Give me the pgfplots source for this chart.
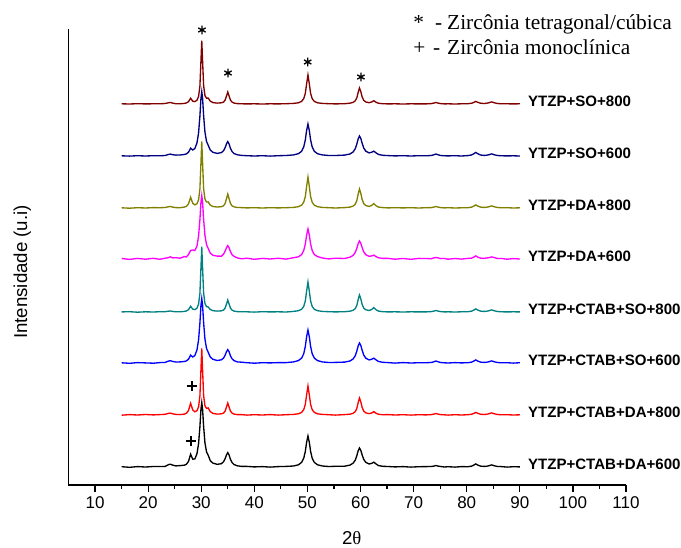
\documentclass[border=0pt]{standalone}
\usepackage{pgfplots}
\pgfplotsset{compat=1.18}
\usepackage{pgfplotstable}
\usepackage{fontspec}
\setmainfont{Liberation Sans}
\newfontfamily\timesfont{Liberation Serif}

\definecolor{cMaroon}{RGB}{128,0,0}
\definecolor{cNavy}{RGB}{0,0,128}
\definecolor{cOlive}{RGB}{128,128,0}
\definecolor{cMagenta}{RGB}{255,0,255}
\definecolor{cTeal}{RGB}{0,128,128}
\definecolor{cBlue}{RGB}{0,0,255}
\definecolor{cRed}{RGB}{255,0,0}

% XRD intensities (arbitrary units, baseline-subtracted) for each sample
% a: YTZP+CTAB+DA+600   b: YTZP+CTAB+DA+800
% c: YTZP+CTAB+SO+600   d: YTZP+CTAB+SO+800
% e: YTZP+DA+600        f: YTZP+DA+800
% g: YTZP+SO+600        h: YTZP+SO+800
\pgfplotstableread{
x a b c d e f g h
15 0.3 -0.2 0.2 0.1 0.5 0.2 0.2 0.2
16.5 -0.3 0.4 -0.3 0.3 -0.4 -0.2 -0.1 0.0
18 0.4 0.0 0.4 -0.2 0.6 0.3 0.3 0.3
19.5 0.0 0.5 0.1 0.2 -0.2 0.0 0.0 0.1
21 0.5 0.1 -0.2 0.0 0.7 0.4 0.3 0.2
22.2 0.5 0.4 0.4 0.3 -0.3 0.3 0.2 0.2
23.2 0.6 0.7 0.6 0.3 0.8 0.5 0.5 0.5
23.8 2.3 1.6 1.9 0.8 1.3 1.2 1.5 1.2
24.2 2.8 1.9 2.3 1.0 2.2 1.5 1.9 1.5
24.6 1.9 1.2 1.6 0.6 1.1 0.9 1.3 0.9
25.2 1.1 0.6 1.0 0.2 1.3 0.4 0.9 0.3
26.0 1.4 0.4 1.1 0.2 0.8 0.3 1.0 0.2
26.8 1.8 0.9 1.5 0.6 2.4 0.9 1.5 0.6
27.2 2.7 1.7 2.1 1.0 2.0 1.6 2.1 1.0
27.6 5.6 4.5 3.8 2.3 4.5 4.1 3.8 2.3
28.0 12.8 11.7 7.8 5.7 8.5 10.7 7.8 5.7
28.4 7.8 5.1 6.0 2.9 9.0 4.7 6.0 2.8
28.8 8.1 3.2 7.5 2.4 8.5 3.1 7.5 2.4
29.2 13.4 4.4 13.1 3.9 13.0 4.3 13.1 3.8
29.5 23.4 8.2 23.2 7.9 23.0 8.2 23.2 7.6
29.75 40.2 19.0 40.0 18.6 39.4 19.0 40.0 18.0
29.95 58.1 45.7 57.9 44.7 57.0 45.6 57.9 43.4
30.1 64.5 66.6 64.3 65.3 63.4 66.5 64.3 63.4
30.25 58.0 45.6 57.9 44.7 57.0 45.5 57.9 43.4
30.45 40.5 19.4 40.3 18.8 39.6 19.3 40.3 18.4
30.7 24.0 9.1 23.8 8.5 23.5 8.8 23.8 8.4
31.0 15.1 6.6 14.5 5.3 14.3 6.0 14.5 5.8
31.3 11.9 7.1 10.9 5.1 10.7 6.1 10.9 6.0
31.7 6.4 3.4 6.0 2.5 5.9 2.9 6.0 2.9
32.2 3.8 1.6 3.7 1.3 3.7 1.5 3.7 1.4
33.0 2.7 0.9 2.5 0.9 2.9 1.0 2.6 0.9
33.8 3.3 1.2 3.2 1.2 2.8 1.3 3.4 1.2
34.2 5.3 1.9 4.9 1.9 4.9 2.2 5.3 1.9
34.5 8.3 4.0 7.8 4.0 7.8 4.6 8.3 4.0
34.75 12.1 7.9 11.3 7.9 11.3 9.2 12.1 7.9
35.0 14.4 12 13.4 12 13.4 14 14.4 12
35.25 11.9 7.9 11.1 7.9 11.1 9.2 11.9 7.9
35.5 7.7 4.0 7.2 4.0 7.4 4.6 7.7 4.0
35.8 4.5 1.9 4.2 1.9 4.2 2.2 4.5 1.9
36.2 2.4 0.9 2.3 0.9 2.6 1.1 2.4 0.9
36.8 1.2 0.4 1.1 0.4 1.1 0.5 1.2 0.4
37.6 0.6 0.4 0.8 0.2 0.2 0.4 0.6 0.2
38.6 0.6 -0.1 0.3 0.2 0.8 0.1 0.3 0.1
40.0 0.1 0.3 -0.2 -0.1 -0.3 0.3 0.0 0.2
41.5 0.4 0.0 0.3 0.3 0.6 0.0 0.3 0.0
43.0 -0.1 0.4 0.1 0.1 0.0 0.3 -0.1 0.2
44.5 0.4 -0.1 0.4 0.2 0.7 0.1 0.3 0.1
46.0 0.6 0.3 0.4 0.0 -0.1 0.3 0.5 0.3
47.4 1.0 0.6 1.1 0.6 1.3 0.6 1.1 0.6
48.3 2.2 1.2 2.4 1.3 2.2 1.3 2.3 1.2
48.9 4.6 2.6 4.9 2.7 4.4 2.8 4.7 2.6
49.3 8.7 5.3 9.2 5.5 8.4 5.7 9.0 5.3
49.6 15.5 10.6 16.5 11.0 15.0 11.3 16.0 10.6
49.85 24.8 20.3 26.4 21.0 24.0 21.7 25.6 20.3
50.1 31 29 33 30 30 31 32 29
50.35 24.8 20.3 26.4 21.0 24.0 21.7 25.6 20.3
50.6 15.5 10.6 16.5 11.0 15.0 11.3 16.0 10.6
50.9 8.7 5.3 9.2 5.5 8.4 5.7 9.0 5.3
51.3 4.6 2.6 4.9 2.7 4.4 2.8 4.7 2.6
51.9 2.2 1.2 2.4 1.3 2.5 1.3 2.3 1.2
52.8 1.0 0.6 1.1 0.6 1.0 0.6 1.1 0.6
54.0 0.5 0.3 0.5 0.3 0.1 0.3 0.5 0.3
55.3 0.7 -0.1 0.6 0.1 0.8 0.0 0.5 0.1
57.0 0.8 0.4 0.9 0.3 0.5 0.4 0.9 0.3
58.0 1.9 0.8 2.0 0.8 1.8 0.9 2.0 0.8
58.6 3.8 1.7 4.0 1.7 3.6 1.9 4.0 1.6
59.0 6.8 3.4 7.2 3.4 6.5 3.8 7.2 3.2
59.3 11.2 6.6 11.8 6.6 10.6 7.4 11.8 6.2
59.55 16.2 12.2 17.0 12.2 15.3 13.7 17.0 11.5
59.8 19 17 20 17 18 19 20 16
60.05 16.7 13.3 17.6 13.3 15.8 14.8 17.6 12.5
60.3 12.2 7.7 12.8 7.7 11.5 8.6 12.8 7.2
60.6 7.6 3.9 8.0 3.9 7.2 4.4 8.0 3.7
61.0 4.6 2.1 4.8 2.2 4.3 2.4 4.8 2.0
61.6 3.0 1.4 3.1 1.5 2.7 1.6 3.1 1.3
62.1 3.6 2.0 3.7 2.5 3.0 2.6 3.7 2.0
62.5 4.9 3.4 4.9 4.4 3.9 4.4 4.9 3.3
62.9 3.1 1.8 3.2 2.3 2.5 2.3 3.2 1.8
63.4 1.4 0.7 1.5 0.9 1.2 0.9 1.5 0.7
64.2 0.7 0.3 0.7 0.3 0.6 0.4 0.7 0.3
65.2 0.5 0.4 0.4 0.1 0.6 0.1 0.4 0.1
66.5 0.1 0.0 -0.1 0.2 -0.2 0.3 0.1 0.2
68.0 0.4 0.3 0.4 0.0 0.5 0.1 0.3 0.0
69.5 -0.1 -0.1 0.0 0.2 -0.3 0.3 0.0 0.2
71.0 0.3 0.3 0.3 0.1 0.6 0.0 0.3 0.1
72.3 0.4 0.1 0.3 0.1 0.5 0.3 0.2 0.1
73.3 0.5 0.4 0.5 0.4 0.2 0.4 0.5 0.4
73.8 0.9 0.9 1.2 0.9 1.1 0.9 1.2 0.9
74.2 1.5 1.5 2.0 1.5 1.5 1.5 2.0 1.5
74.6 0.9 0.9 1.2 0.9 1.1 0.9 1.2 0.9
75.1 0.5 0.4 0.5 0.4 0.4 0.4 0.5 0.4
75.8 0.0 0.2 0.2 0.1 0.5 0.1 0.2 0.1
76.5 0.3 -0.1 0.0 0.2 -0.2 0.3 0.1 0.2
77.8 -0.1 0.3 0.4 0.0 0.5 0.0 0.3 0.0
79.0 0.4 0.0 0.1 0.2 -0.1 0.2 0.0 0.2
80.2 0.3 0.3 0.3 0.3 0.6 0.3 0.4 0.3
80.9 0.8 0.7 0.8 0.8 0.8 0.8 1.0 0.7
81.3 1.8 1.5 1.8 1.8 1.8 1.8 2.1 1.5
81.7 3.1 2.6 3.1 3.1 3.1 3.1 3.6 2.6
82.1 1.9 1.6 1.9 1.9 1.9 1.9 2.2 1.6
82.6 0.9 0.8 0.9 0.9 0.9 0.9 1.0 0.8
83.2 0.6 0.5 0.6 0.6 0.6 0.6 0.6 0.5
83.7 0.7 0.7 0.7 0.7 1.0 0.7 0.7 0.7
84.2 1.3 1.3 1.3 1.3 1.3 1.3 1.3 1.3
84.7 2.1 2.1 2.1 2.1 2.1 2.1 2.1 2.1
85.2 1.2 1.2 1.2 1.2 1.4 1.2 1.2 1.2
85.8 0.5 0.5 0.5 0.5 0.5 0.5 0.5 0.5
86.6 0.4 0.2 0.2 0.2 0.5 0.2 0.2 0.2
87.6 -0.1 0.3 0.3 0.1 -0.2 0.3 0.1 0.2
88.8 0.3 0.0 -0.1 0.2 0.4 0.0 0.2 0.1
90.0 0.1 0.2 0.3 0.1 0.0 0.2 0.0 0.2
}\xrd

\begin{document}
\begin{tikzpicture}
\path[use as bounding box] (-51.375pt,-46.5pt) rectangle (459.375pt,363.75pt);
\begin{axis}[
  at={(0pt,0pt)}, anchor=south west,
  scale only axis, width=418.125pt, height=342pt,
  xmin=5, xmax=110, ymin=0, ymax=456,
  axis x line*=bottom, axis y line*=left,
  ytick=\empty,
  xtick={10,20,...,110}, minor x tick num=1,
  tick align=outside,
  major tick length=5.25pt, minor tick length=3pt,
  axis line style={line width=0.9pt, black},
  every tick/.style={black, line width=0.9pt},
  ticklabel style={font=\fontsize{12.75}{14}\selectfont},
  /pgf/number format/assume math mode=true,
  xlabel={2{\timesfont θ}},
  ylabel={Intensidade (u.i)},
  label style={font=\fontsize{14}{16}\selectfont},
  xlabel style={at={(axis description cs:0.508,-0.116)}, anchor=center},
  ylabel style={at={(axis description cs:-0.083,0.467)}, anchor=center},
  clip=false,
]
% stacked diffractograms
\addplot[black,    line width=1pt] table[x=x, y expr=\thisrow{a}+18]  {\xrd};
\addplot[cRed,     line width=1pt] table[x=x, y expr=\thisrow{b}+70]  {\xrd};
\addplot[cBlue,    line width=1pt] table[x=x, y expr=\thisrow{c}+122] {\xrd};
\addplot[cTeal,    line width=1pt] table[x=x, y expr=\thisrow{d}+173] {\xrd};
\addplot[cMagenta, line width=1pt] table[x=x, y expr=\thisrow{e}+226] {\xrd};
\addplot[cOlive,   line width=1pt] table[x=x, y expr=\thisrow{f}+277] {\xrd};
\addplot[cNavy,    line width=1pt] table[x=x, y expr=\thisrow{g}+329] {\xrd};
\addplot[cMaroon,  line width=1pt] table[x=x, y expr=\thisrow{h}+381] {\xrd};

% phase markers
\addplot[only marks, mark=asterisk, mark size=3.2pt, black, line width=1pt]
  coordinates {(30.14,455) (35.04,412) (50.05,423) (60.08,408)};
\addplot[only marks, mark=+, mark size=3.75pt, black, line width=1pt]
  coordinates {(28.26,99) (28.07,44)};

% sample labels
\begin{scope}[every node/.style={anchor=west, inner sep=0pt, font=\bfseries\fontsize{11.3}{13}\selectfont}]
\node at (axis cs:91.5,21)  {YTZP+CTAB+DA+600};
\node at (axis cs:91.5,73)  {YTZP+CTAB+DA+800};
\node at (axis cs:91.5,125) {YTZP+CTAB+SO+600};
\node at (axis cs:91.5,176) {YTZP+CTAB+SO+800};
\node at (axis cs:91.5,229) {YTZP+DA+600};
\node at (axis cs:91.5,280) {YTZP+DA+800};
\node at (axis cs:91.5,332) {YTZP+SO+600};
\node at (axis cs:91.5,384) {YTZP+SO+800};
\end{scope}

% key to the markers
\begin{scope}[every node/.style={anchor=base west, inner sep=0pt, font=\timesfont\fontsize{16}{18}\selectfont}]
\node at (axis cs:69.88,455.7) {\makebox[16.5pt][l]{*}\makebox[9pt][l]{-}Zircônia tetragonal/cúbica};
\node at (axis cs:69.88,430)   {\makebox[15pt][l]{+}\makebox[10.5pt][l]{-}Zircônia monoclínica};
\end{scope}
\end{axis}
\end{tikzpicture}
\end{document}
